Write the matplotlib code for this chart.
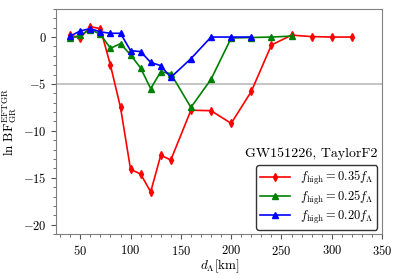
import matplotlib
matplotlib.use('Agg')
import matplotlib.pyplot as plt
from matplotlib.ticker import AutoMinorLocator

plt.rcParams['font.family'] = 'serif'
plt.rcParams['font.serif'] = ['cmr10']
plt.rcParams['mathtext.fontset'] = 'cm'
plt.rcParams['axes.formatter.use_mathtext'] = True
plt.rcParams['font.size'] = 9

# distances d_Lambda [km]
d_red = [40, 50, 60, 70, 80, 90, 100, 110, 120, 130, 140, 160, 180, 200, 220, 240, 260, 280, 300, 320]
bf_red = [0.2, -0.1, 1.1, 0.9, -3.0, -7.5, -14.1, -14.6, -16.5, -12.6, -13.1, -7.8, -7.85, -9.2, -5.8, -0.85, 0.2, 0.05, 0.0, 0.0]

d_green = [40, 50, 60, 70, 80, 90, 100, 110, 120, 130, 140, 160, 180, 200, 220, 240, 260]
bf_green = [-0.15, 0.2, 0.8, 0.3, -1.2, -0.7, -1.9, -3.3, -5.5, -3.7, -3.9, -7.5, -4.5, -0.1, -0.05, 0.0, 0.1]

d_blue = [40, 50, 60, 70, 80, 90, 100, 110, 120, 130, 140, 160, 180, 200, 220]
bf_blue = [0.1, 0.65, 0.9, 0.55, 0.4, 0.4, -1.45, -1.55, -2.7, -3.05, -4.3, -2.3, 0.0, 0.0, 0.0]

xticks = [50, 100, 150, 200, 250, 300, 350]
yticks = [-20, -15, -10, -5, 0]

fig = plt.figure(figsize=(3.98, 2.78), dpi=100)
ax = fig.add_axes([0.141, 0.158, 0.819, 0.81])

ax.axhline(-5, color='#bbbbbb', lw=1.2, zorder=1)
ax.plot(d_red, bf_red, color='red', marker='d', ms=4, lw=1.2, label=r'$f_{\rm high}=0.35f_\Lambda$')
ax.plot(d_green, bf_green, color='green', marker='^', ms=4.5, lw=1.2, label=r'$f_{\rm high}=0.25f_\Lambda$')
ax.plot(d_blue, bf_blue, color='blue', marker='^', ms=4.5, lw=1.2, label=r'$f_{\rm high}=0.20f_\Lambda$')

ax.set_xlim(26, 350)
ax.set_ylim(-21, 3)
ax.set_xticks(xticks)
ax.set_xticklabels([f'${v}$' for v in xticks], fontsize=9)
ax.set_yticks(yticks)
ax.set_yticklabels([f'${v}$' for v in yticks], fontsize=9)
ax.xaxis.set_minor_locator(AutoMinorLocator(5))
ax.yaxis.set_minor_locator(AutoMinorLocator(5))
for s in ax.spines.values():
    s.set_color('#808080')
ax.tick_params(which='both', color='#555555')
ax.tick_params(which='major', length=3.5)
ax.tick_params(which='minor', length=2)

ax.set_xlabel(r'$d_\Lambda[\mathrm{km}]$', fontsize=9.5)
ax.set_ylabel(r'$\ln\,\mathrm{BF}^{\mathrm{EFTGR}}_{\mathrm{GR}}$', fontsize=9.5)
ax.xaxis.set_label_coords(0.503, -0.105)
ax.yaxis.set_label_coords(-0.115, 0.5)

leg = ax.legend(loc='lower right', bbox_to_anchor=(0.985, 0.02), fancybox=True,
                edgecolor='#333333', framealpha=1, fontsize=9, handlelength=2.4,
                handletextpad=0.8, borderpad=0.3, labelspacing=0.15, borderaxespad=0)
leg.get_frame().set_linewidth(1.0)
ax.text(0.985, 0.355, 'GW151226, TaylorF2', transform=ax.transAxes,
        ha='right', va='center', fontsize=10, zorder=10)

fig.savefig('out.png', dpi=100)
